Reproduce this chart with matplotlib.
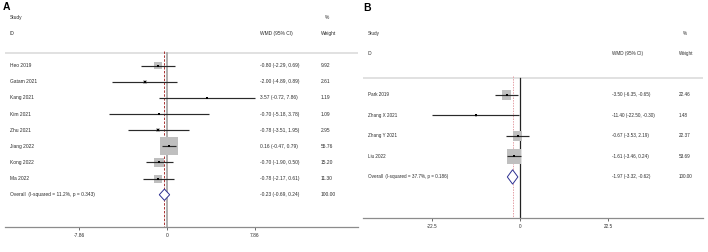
import numpy as np
import matplotlib.pyplot as plt
from matplotlib.patches import Polygon

# %% DATA
A_STUDIES = ["Heo 2019", "Gatam 2021", "Kang 2021", "Kim 2021", "Zhu 2021",
             "Jiang 2022", "Kong 2022", "Ma 2022"]
A_WMD = [-0.80, -2.00, 3.57, -0.70, -0.78, 0.16, -0.70, -0.78]
A_LOWER = [-2.29, -4.89, -0.72, -5.18, -3.51, -0.47, -1.90, -2.17]
A_UPPER = [0.69, 0.89, 7.86, 3.78, 1.95, 0.79, 0.50, 0.61]
A_WEIGHT = [9.92, 2.61, 1.19, 1.09, 2.95, 55.76, 15.20, 11.30]
A_OVERALL = [-0.23, -0.69, 0.24]
A_HETEROGENEITY = "(I-squared = 11.2%, p = 0.343)"
A_TICKS = [-7.86, 0, 7.86]
A_TICK_LABELS = ["-7.86", "0", "7.86"]

B_STUDIES = ["Park 2019", "Zhang X 2021", "Zhang Y 2021", "Liu 2022"]
B_WMD = [-3.50, -11.40, -0.67, -1.61]
B_LOWER = [-6.35, -22.50, -3.53, -3.46]
B_UPPER = [-0.65, -0.30, 2.19, 0.24]
B_WEIGHT = [22.46, 1.48, 22.37, 53.69]
B_OVERALL = [-1.97, -3.32, -0.62]
B_HETEROGENEITY = "(I-squared = 37.7%, p = 0.186)"
B_TICKS = [-22.5, 0, 22.5]
B_TICK_LABELS = ["-22.5", "0", "22.5"]

# %% STYLE
W, H, DPI = 708, 252, 100
TEXT_COLOR = "#2b2b2b"
FONT = "Liberation Sans"
plt.rcParams["font.family"] = [FONT, "DejaVu Sans"]


def px_box(left, top, right, bottom):
    """pixel box -> figure fraction [l, b, w, h]"""
    return [left / W, 1 - bottom / H, (right - left) / W, (bottom - top) / H]


def draw_forest(ax, studies, wmd, lower, upper, weight, overall, het, ticks, tick_labels,
                xlim, top, box_scale, fs, col_wmd, col_weight, col_pct,
                zero_color, zero_lw, ref_color, ref_dash):
    n = len(studies)
    rows = np.arange(n)
    ax.set_xlim(*xlim)
    ax.set_ylim(n + 2, top)
    tr = ax.get_yaxis_transform()

    # headers + separator
    ax.text(0.014, -3, "Study", transform=tr, fontsize=fs, color=TEXT_COLOR, va="center")
    ax.text(0.014, -2, "ID", transform=tr, fontsize=fs, color=TEXT_COLOR, va="center")
    ax.text(col_wmd, -2, "WMD (95% CI)", transform=tr, fontsize=fs, color=TEXT_COLOR, va="center")
    ax.text(col_pct, -3, "%", transform=tr, fontsize=fs, color=TEXT_COLOR, va="center")
    ax.text(col_weight, -2, "Weight", transform=tr, fontsize=fs, color=TEXT_COLOR, va="center")
    ax.axhline(-0.8, color="#dcdcdc", lw=1.2, zorder=1)

    # reference lines
    ax.plot([0, 0], [-0.8, n + 2], color=zero_color, lw=zero_lw, zorder=2, clip_on=False)
    ax.plot([overall[0], overall[0]], [-0.9, n + 2], color=ref_color, lw=0.7,
            dashes=ref_dash, zorder=2, clip_on=False)

    # study boxes, CIs and point estimates
    ax.scatter(wmd, rows, s=box_scale * np.array(weight), marker="s", color="#bfbfbf",
               linewidths=0, zorder=3)
    ax.hlines(rows, lower, upper, color="#2a2a2a", lw=0.85, zorder=4)
    ax.scatter(wmd, rows, s=2.4, marker="s", color="black", linewidths=0, zorder=5)

    # overall diamond
    est, lo, hi = overall
    diamond = Polygon([[lo, n], [est, n - 0.35], [hi, n], [est, n + 0.35]], closed=True,
                      facecolor="white", edgecolor="#2e3192", lw=0.7, zorder=5)
    ax.add_patch(diamond)

    # text columns
    for i in range(n):
        ax.text(0.014, i, studies[i], transform=tr, fontsize=fs, color=TEXT_COLOR, va="center")
        ax.text(col_wmd, i, f"{wmd[i]:.2f} ({lower[i]:.2f}, {upper[i]:.2f})", transform=tr,
                fontsize=fs, color=TEXT_COLOR, va="center")
        ax.text(col_weight, i, f"{weight[i]:.2f}", transform=tr, fontsize=fs,
                color=TEXT_COLOR, va="center")
    ax.text(0.014, n, "Overall  " + het, transform=tr, fontsize=fs, color=TEXT_COLOR, va="center")
    ax.text(col_wmd, n, f"{est:.2f} ({lo:.2f}, {hi:.2f})", transform=tr, fontsize=fs,
            color=TEXT_COLOR, va="center")
    ax.text(col_weight, n, f"{100:.2f}", transform=tr, fontsize=fs, color=TEXT_COLOR, va="center")

    # axis
    for side in ["left", "top", "right"]:
        ax.spines[side].set_visible(False)
    ax.spines["bottom"].set_color("#8c8c8c")
    ax.spines["bottom"].set_linewidth(0.9)
    ax.set_yticks([])
    ax.set_xticks(ticks)
    ax.set_xticklabels(tick_labels)
    ax.tick_params(axis="x", direction="out", length=2.5, width=0.6, color="#555555",
                   labelsize=fs, labelcolor=TEXT_COLOR, pad=2)
    ax.patch.set_visible(False)


# %% FIGURE
fig = plt.figure(figsize=(W / DPI, H / DPI), dpi=DPI)

# panel A: 0 at x=167 px, 11.2 px per unit
ax_a = fig.add_axes(px_box(5, 14, 358, 227))
draw_forest(ax_a, A_STUDIES, A_WMD, A_LOWER, A_UPPER, A_WEIGHT, A_OVERALL, A_HETEROGENEITY,
            A_TICKS, A_TICK_LABELS, xlim=((5 - 167) / 11.2, (358 - 167) / 11.2), top=-3.2,
            box_scale=3.0, fs=3.55, col_wmd=0.722, col_weight=0.895, col_pct=0.905,
            zero_color="#9a9a9a", zero_lw=1.1, ref_color="#a83232", ref_dash=(2.5, 1.5))

# panel B: 0 at x=520 px, 3.91 px per unit
ax_b = fig.add_axes(px_box(363, 25, 703, 218))
draw_forest(ax_b, B_STUDIES, B_WMD, B_LOWER, B_UPPER, B_WEIGHT, B_OVERALL, B_HETEROGENEITY,
            B_TICKS, B_TICK_LABELS, xlim=((363 - 520.3) / 3.91, (703 - 520.3) / 3.91), top=-3.4,
            box_scale=2.07, fs=3.35, col_wmd=0.732, col_weight=0.929, col_pct=0.941,
            zero_color="#222222", zero_lw=0.9, ref_color="#e4a0a6", ref_dash=(1.5, 1.2))

fig.text(3 / W, 1 - 7.5 / H, "A", fontsize=7.5, fontweight="bold", va="center", ha="left")
fig.text(363 / W, 1 - 8 / H, "B", fontsize=7.5, fontweight="bold", va="center", ha="left")

fig.savefig("out.png", dpi=DPI)
